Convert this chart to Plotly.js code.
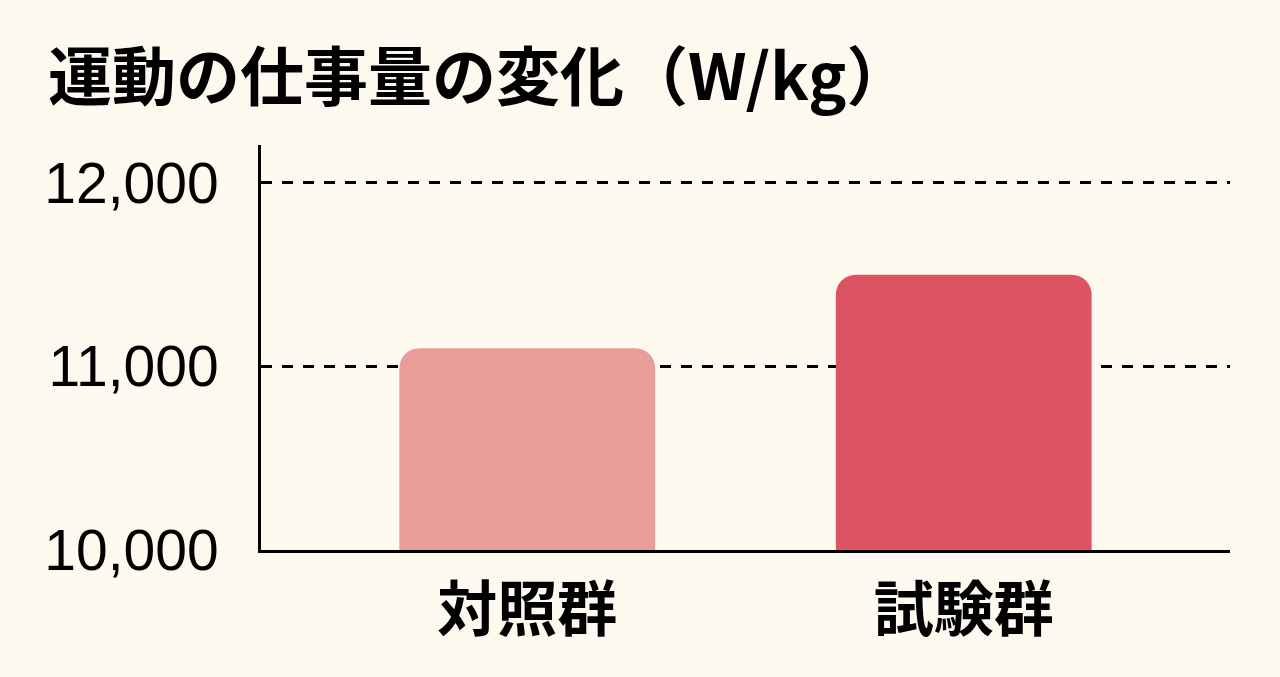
<!DOCTYPE html>
<html>
<head>
<meta charset="utf-8">
<script src="https://cdn.plot.ly/plotly-3.0.1.min.js"></script>
<style>
html,body{margin:0;padding:0;background:#FDF9EE;}
#chart{width:1280px;height:677px;}
</style>
</head>
<body>
<div id="chart"></div>
<script>
const categories = ["対照群", "試験群"];
const values = [11100, 11500];
const barColors = ["#E89D98", "#DC5461"];
const yTickVals = [10000, 11000, 12000];
const yTickText = ["10,000", "11,000", "12,000"];
const chartTitle = "運動の仕事量の変化（W/kg）";

const trace = {
  type: "bar",
  x: categories,
  y: values,
  marker: {color: barColors, line: {width: 0}},
  width: 0.586,
  hoverinfo: "none"
};

const layout = {
  width: 1280,
  height: 677,
  paper_bgcolor: "#FDF9EE",
  plot_bgcolor: "#FDF9EE",
  margin: {l: 261, r: 50, t: 145, b: 127, pad: 0},
  showlegend: false,
  barcornerradius: 20,
  title: {
    text: chartTitle,
    font: {family: "Noto Sans CJK JP", size: 64, color: "#000", weight: 700},
    x: 48/1280, xanchor: "left", xref: "container",
    y: 1 - 78/677, yanchor: "middle", yref: "container"
  },
  xaxis: {
    type: "category",
    range: [-0.61, 1.61],
    showline: true, linecolor: "#000", linewidth: 3,
    showgrid: false, zeroline: false,
    ticks: "", ticklabelstandoff: 6,
    tickfont: {family: "Noto Sans CJK JP", size: 60, color: "#000", weight: 700}
  },
  yaxis: {
    range: [10000, 12207],
    tickvals: yTickVals, ticktext: yTickText,
    showline: true, linecolor: "#000", linewidth: 3,
    showgrid: true, gridcolor: "#000", gridwidth: 3, griddash: "11px,10px",
    zeroline: false,
    ticks: "", ticklabelstandoff: 28,
    tickfont: {family: "Liberation Sans, Arial", size: 57, color: "#000"}
  }
};

Plotly.newPlot("chart", [trace], layout, {staticPlot: true, displayModeBar: false});
</script>
</body>
</html>
